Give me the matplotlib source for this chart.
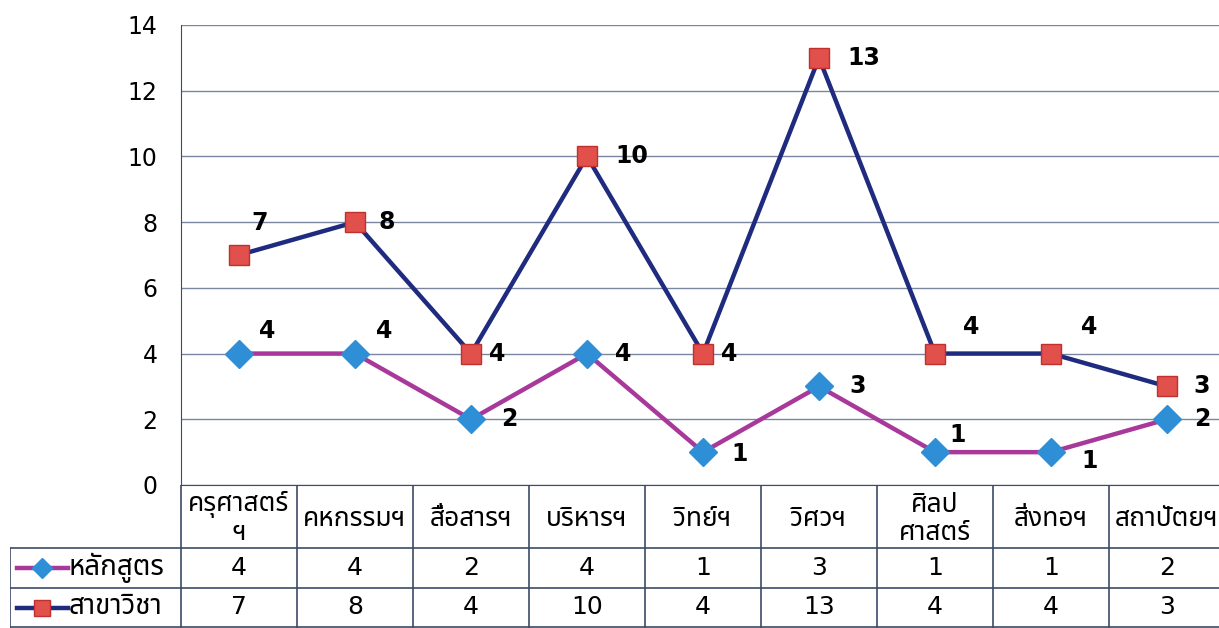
import matplotlib
matplotlib.use("Agg")
import matplotlib.pyplot as plt
from matplotlib import font_manager
from matplotlib.ft2font import FT2Font

# ================================
# Data
# ================================
faculties = ["ครุศาสตร์\nฯ", "คหกรรมฯ", "สื่อสารฯ", "บริหารฯ", "วิทย์ฯ",
             "วิศวฯ", "ศิลป\nศาสตร์", "สิ่งทอฯ", "สถาปัตยฯ"]
courses = [4, 4, 2, 4, 1, 3, 1, 1, 2]      # หลักสูตร
majors = [7, 8, 4, 10, 4, 13, 4, 4, 3]     # สาขาวิชา
series_names = ["หลักสูตร", "สาขาวิชา"]
y_ticks = [0, 2, 4, 6, 8, 10, 12, 14]

# label offsets (pixels: right, up)
off_courses = [(20, 23), (21, 23), (30, 0), (28, 0), (28, -2), (30, 0), (14, 17), (30, -9), (27, 0)]
off_majors = [(12, 32), (24, 0), (18, 0), (28, 0), (18, 0), (28, 0), (28, 27), (30, 27), (26, 0)]


# ================================
# Font with Thai glyphs
# ================================
def find_thai_font():
    preferred = ["Noto Sans Thai", "Noto Sans Thai UI", "Tahoma", "Loma", "Garuda",
                 "Tlwg Typo", "Norasi", "Kinnari", "Noto Serif Thai", "Noto Sans", "DejaVu Sans"]
    found = set()
    for f in font_manager.fontManager.ttflist:
        try:
            cmap = FT2Font(f.fname).get_charmap()
        except Exception:
            continue
        if 0x0E2B in cmap and 0x0E2F in cmap:
            found.add(f.name)
    for name in preferred:
        if name in found:
            return name
    if found:
        return sorted(found)[0]
    return "DejaVu Sans"


thai = find_thai_font()
plt.rcParams["font.family"] = [thai, "DejaVu Sans"]

W, H = 1219, 628
x0 = 181      # left edge of plot area (px)
col = 116.0   # width of one category column (px)
top, bottom = 25, 485

c_course_line = "#A8399A"
c_course_mark = "#2F8FD6"
c_major_line = "#1F2B7E"
c_major_mark = "#E2504C"
c_grid = "#7A86A0"
c_border = "#3C4A66"

fig = plt.figure(figsize=(W / 100, H / 100), dpi=100)
ax = fig.add_axes([x0 / W, (H - bottom) / H, 9 * col / W, (bottom - top) / H])

x = list(range(len(faculties)))
ax.plot(x, courses, color=c_course_line, linewidth=3.2, marker="D", markersize=14,
        markerfacecolor=c_course_mark, markeredgecolor=c_course_mark, zorder=3)
ax.plot(x, majors, color=c_major_line, linewidth=3.2, marker="s", markersize=15,
        markerfacecolor=c_major_mark, markeredgecolor="#C0302E", zorder=3)

for i, v in enumerate(courses):
    dx, dy = off_courses[i]
    ax.annotate(str(v), (i, v), xytext=(dx * 0.72, dy * 0.72), textcoords="offset points",
                ha="left", va="center", fontsize=17, fontweight="bold",
                family="DejaVu Sans", color="black", zorder=4)
for i, v in enumerate(majors):
    dx, dy = off_majors[i]
    ax.annotate(str(v), (i, v), xytext=(dx * 0.72, dy * 0.72), textcoords="offset points",
                ha="left", va="center", fontsize=17, fontweight="bold",
                family="DejaVu Sans", color="black", zorder=4)

ax.set_xlim(-0.5, len(faculties) - 0.5)
ax.set_ylim(0, 14)
ax.set_yticks(y_ticks)
ax.set_yticklabels([str(t) for t in y_ticks], family="DejaVu Sans")
ax.set_xticks([])
ax.tick_params(axis="y", length=0, pad=17, labelsize=17)
ax.yaxis.grid(True, color=c_grid, linewidth=1)
ax.set_axisbelow(True)
for s in ["top", "right"]:
    ax.spines[s].set_visible(False)
ax.spines["left"].set_color(c_border)
ax.spines["bottom"].set_color(c_border)

# ================================
# Data table under the chart
# ================================
tax = fig.add_axes([10 / W, 0, (x0 + 9 * col - 10) / W, (H - bottom) / H])
left_x = -0.5 - (x0 - 10) / col
tax.set_xlim(left_x, len(faculties) - 0.5)
tax.set_ylim(H - bottom, 0)
tax.axis("off")

rows_y = [0, 63, 103, 142]
for k in range(len(faculties) + 1):
    tax.plot([k - 0.5, k - 0.5], [rows_y[0], rows_y[-1]], color=c_border, linewidth=1.2)
tax.plot([left_x, left_x], [rows_y[1], rows_y[-1]], color=c_border, linewidth=1.2)
for yy in rows_y[1:]:
    tax.plot([left_x, len(faculties) - 0.5], [yy, yy], color=c_border, linewidth=1.2)

for i, name in enumerate(faculties):
    tax.text(i, (rows_y[0] + rows_y[1]) / 2 + 2, name, ha="center", va="center",
             fontsize=19, linespacing=1.0)
    tax.text(i, (rows_y[1] + rows_y[2]) / 2, str(courses[i]), ha="center", va="center",
             fontsize=18, family="DejaVu Sans")
    tax.text(i, (rows_y[2] + rows_y[3]) / 2, str(majors[i]), ha="center", va="center",
             fontsize=18, family="DejaVu Sans")


def px2x(p):
    return -0.5 + (p - x0) / col


legend_rows = [
    (series_names[0], c_course_line, "D", c_course_mark, c_course_mark, 10),
    (series_names[1], c_major_line, "s", c_major_mark, "#C0302E", 11),
]
for r, (name, lc, mk, mfc, mec, ms) in enumerate(legend_rows):
    yc = (rows_y[r + 1] + rows_y[r + 2]) / 2
    tax.plot([px2x(17), px2x(68)], [yc, yc], color=lc, linewidth=3.2)
    tax.plot([px2x(42)], [yc], marker=mk, markersize=ms, markerfacecolor=mfc,
             markeredgecolor=mec, linestyle="none")
    tax.text(px2x(69), yc, name, ha="left", va="center", fontsize=20)

fig.savefig("out.png", dpi=100)
